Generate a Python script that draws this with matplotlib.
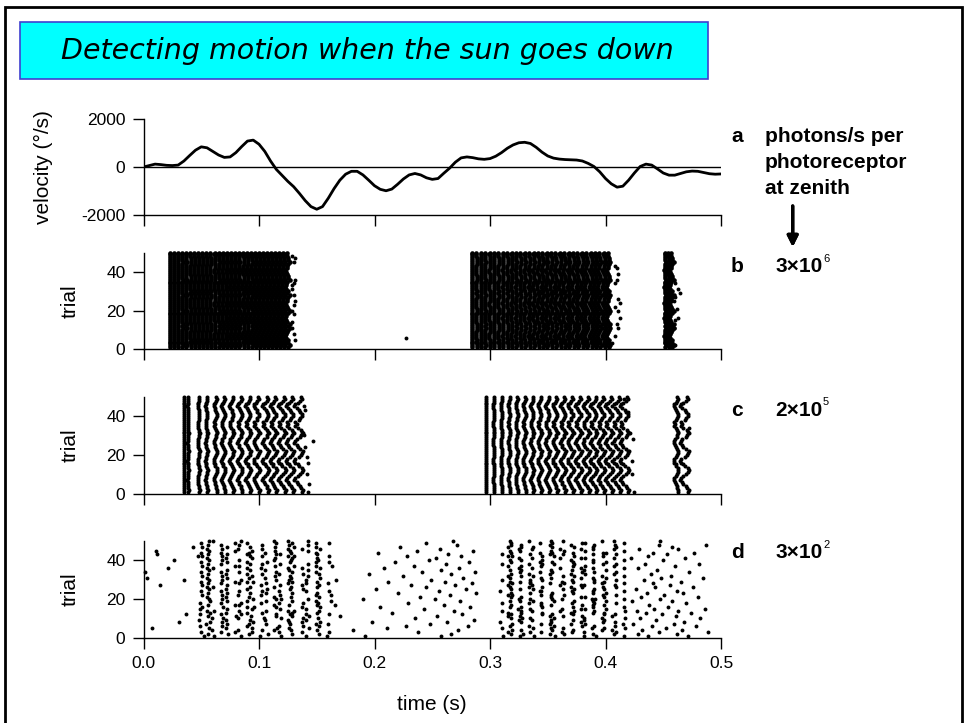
import matplotlib
matplotlib.use('Agg')
import matplotlib.pyplot as plt
import numpy as np
from matplotlib.patches import Rectangle

plt.rcParams['font.family'] = ['Liberation Sans', 'DejaVu Sans']
plt.rcParams['axes.unicode_minus'] = False
plt.rcParams['axes.linewidth'] = 1.0
plt.rcParams['xtick.labelsize'] = 12.5
plt.rcParams['ytick.labelsize'] = 12.5
plt.rcParams['axes.labelsize'] = 15

# ---- panel a: angular velocity of the stimulus ----
vel_ms = [0, 5, 10, 15, 20, 25, 30, 35, 40, 45, 50, 55, 60, 65, 70, 75, 80, 85, 90, 95,
          100, 105, 110, 115, 120, 125, 130, 135, 140, 145, 150, 155, 160, 165, 170, 175,
          180, 185, 190, 195, 200, 205, 210, 215, 220, 225, 230, 235, 240, 245, 250, 255,
          260, 265, 270, 275, 280, 285, 290, 295, 300, 305, 310, 315, 320, 325, 330, 335,
          340, 345, 350, 355, 360, 365, 370, 375, 380, 385, 390, 395, 400, 405, 410, 415,
          420, 425, 430, 435, 440, 445, 450, 455, 460, 465, 470, 475, 480, 485, 490, 495, 500]
velocity = [0, 60, 120, 100, 70, 60, 80, 250, 480, 700, 840, 800, 650, 500, 400, 420, 600,
            850, 1080, 1120, 950, 650, 250, -100, -350, -600, -820, -1100, -1400, -1650,
            -1760, -1650, -1300, -900, -550, -300, -180, -180, -330, -550, -780, -930, -990,
            -920, -720, -500, -330, -270, -330, -450, -515, -480, -260, -50, 200, 380, 420,
            390, 340, 320, 350, 450, 600, 780, 920, 1010, 1030, 980, 820, 620, 460, 370, 330,
            310, 300, 290, 250, 150, 20, -200, -480, -700, -840, -800, -550, -250, 20, 120,
            80, -80, -250, -340, -340, -270, -200, -170, -180, -230, -280, -300, -290]

# ---- panel b: 3x10^6 photons/s, stripe times (s) of each burst ----
b_stripes = [
    [0.0230, 0.0265, 0.0300, 0.0335, 0.0370, 0.0405, 0.0440, 0.0475, 0.0510, 0.0545,
     0.0580, 0.0615, 0.0650, 0.0685, 0.0720, 0.0755, 0.0790, 0.0825, 0.0860, 0.0895,
     0.0930, 0.0965, 0.1000, 0.1035, 0.1070, 0.1105, 0.1140, 0.1175, 0.1210, 0.1245],
    [0.2845, 0.2883, 0.2921, 0.2959, 0.2997, 0.3035, 0.3073, 0.3111, 0.3149, 0.3187,
     0.3225, 0.3263, 0.3301, 0.3339, 0.3377, 0.3415, 0.3453, 0.3491, 0.3529, 0.3567,
     0.3605, 0.3643, 0.3681, 0.3719, 0.3757, 0.3795, 0.3833, 0.3871, 0.3909, 0.3947,
     0.3985, 0.4020],
    [0.4515, 0.4545, 0.4570],
]
# per-trial lag (ms) of the last stripe of a burst, trials 1..50
b_shift = [1, 2, 1, 0, 1, -1, -2, -1, 0, 1, 2, 1, 2, 0, -1, -2, -1, -1, 1, 2, 1, 0, -1,
           -2, 0, 0, 1, 2, 0, 1, -1, -2, -1, -1, 0, 2, 1, 1, 0, -1, -2, 0, 0, 1, 2, 1, 1,
           0, -1, 0]
b_extra_t = [0.2276, 0.1284, 0.1313, 0.1299, 0.1313, 0.1284, 0.1299, 0.1284, 0.1299, 0.1313,
             0.1299, 0.1284, 0.1305, 0.1290, 0.1284, 0.1299, 0.1313,
             0.4080, 0.4096, 0.4110, 0.4096, 0.4080, 0.4104, 0.4125, 0.4080, 0.4110, 0.4125,
             0.4096, 0.4110, 0.4080, 0.4055,
             0.4603, 0.4632, 0.4646, 0.4603, 0.4597, 0.4617, 0.4632, 0.4603, 0.4597, 0.4603]
b_extra_trial = [6, 48, 47, 45, 36, 33, 34, 31, 28, 25, 23, 20, 18, 14, 11, 8, 5,
                 43, 42, 39, 36, 34, 26, 24, 22, 20, 16, 13, 11, 7, 3,
                 34, 31, 29, 27, 25, 21, 16, 15, 11, 2]

# ---- panel c: 2x10^5 photons/s ----
c_stripes = [
    [0.0350, 0.0385, 0.0478, 0.0545, 0.0623, 0.0690, 0.0762, 0.0835, 0.0907, 0.0980,
     0.1058, 0.1125, 0.1197, 0.1270, 0.1345],
    [0.2965, 0.3032, 0.3098, 0.3165, 0.3232, 0.3298, 0.3365, 0.3432, 0.3498, 0.3565,
     0.3632, 0.3698, 0.3765, 0.3832, 0.3898, 0.3965, 0.4032, 0.4098, 0.4165],
    [0.4612, 0.4685],
]
c_shift = [3, 4, 2, 1, -1, -2, -4, -3, -1, 1, 3, 4, 3, 0, -1, -3, -4, -3, 0, 2, 3, 4, 1, -1,
           -2, -4, -3, -2, 1, 2, 4, 3, 2, -1, -3, -2, -3, 0, 1, 3, 3, 1, 0, -2, -4, -3, -1,
           1, 3, 2]
c_extra_t = [0.1464, 0.1388, 0.1402, 0.1417, 0.1426, 0.1417, 0.1432, 0.1426, 0.1391, 0.1400,
             0.4197, 0.4212, 0.4241, 0.4197, 0.4226, 0.4232, 0.4250, 0.4162, 0.4719]
c_extra_trial = [27, 30, 24, 19, 16, 10, 5, 1, 45, 43,
                 42, 31, 28, 22, 17, 10, 1, 49, 34]

# ---- panel d: 3x10^2 photons/s, spike times (ms) per trial 1..50 ----
d_spikes = [
    [52, 61, 84, 101, 119, 141, 159, 192, 258, 311, 326, 338, 356, 381, 392, 416, 437, 471],
    [56, 73, 91, 108, 129, 152, 266, 318, 329, 352, 364, 389, 407, 428, 462],
    [50, 67, 79, 94, 117, 137, 161, 238, 316, 335, 344, 362, 371, 381, 409, 446, 489],
    [59, 82, 103, 113, 128, 150, 181, 272, 319, 327, 354, 372, 397, 406, 432, 466],
    [7, 57, 71, 94, 116, 126, 143, 211, 310, 337, 353, 363, 388, 399, 417, 452],
    [49, 68, 90, 117, 138, 152, 227, 281, 317, 334, 355, 380, 390, 408, 440, 478],
    [54, 72, 91, 106, 127, 149, 160, 248, 319, 344, 352, 370, 382, 415, 424, 459],
    [31, 58, 68, 95, 126, 137, 153, 198, 263, 309, 327, 353, 379, 398, 408, 468],
    [48, 71, 92, 105, 125, 141, 286, 325, 336, 353, 372, 381, 399, 444],
    [59, 69, 82, 104, 119, 138, 151, 235, 318, 328, 335, 355, 381, 397, 417, 430, 482],
    [56, 80, 93, 115, 129, 143, 170, 254, 316, 326, 352, 363, 380, 406, 461],
    [37, 49, 67, 84, 115, 127, 141, 161, 276, 318, 345, 354, 372, 399, 408, 449],
    [58, 71, 90, 103, 129, 150, 215, 316, 327, 345, 370, 389, 399, 435, 474],
    [55, 61, 83, 106, 125, 130, 152, 269, 310, 327, 336, 361, 373, 390, 417, 427, 463],
    [49, 72, 94, 118, 141, 243, 324, 335, 362, 379, 382, 400, 442, 486],
    [51, 69, 90, 96, 115, 137, 153, 205, 283, 317, 327, 345, 372, 389, 416, 454],
    [56, 79, 83, 113, 126, 150, 166, 260, 318, 344, 353, 380, 389, 399, 438],
    [49, 67, 84, 102, 117, 138, 151, 229, 310, 334, 344, 371, 390, 409, 470],
    [58, 72, 90, 106, 129, 149, 162, 274, 317, 326, 337, 355, 373, 389, 400, 423, 458],
    [57, 68, 95, 115, 119, 142, 190, 252, 325, 335, 354, 362, 388, 391, 416, 447],
    [55, 71, 91, 113, 128, 152, 239, 318, 327, 353, 379, 382, 399, 431, 480],
    [51, 68, 82, 102, 118, 149, 162, 265, 316, 319, 344, 353, 364, 398, 409, 451],
    [56, 72, 92, 106, 129, 150, 220, 288, 318, 335, 354, 372, 389, 400, 436, 467],
    [50, 67, 83, 103, 117, 141, 161, 256, 309, 343, 344, 371, 389, 416, 462],
    [57, 71, 90, 107, 127, 138, 201, 279, 318, 326, 337, 363, 373, 390, 399, 426],
    [55, 60, 92, 113, 128, 150, 245, 317, 334, 345, 370, 380, 398, 409, 443, 476],
    [14, 51, 72, 102, 118, 137, 152, 232, 270, 316, 336, 361, 379, 381, 408, 456],
    [56, 67, 83, 106, 125, 141, 160, 284, 319, 335, 352, 364, 397, 416, 441],
    [50, 79, 90, 95, 129, 150, 212, 261, 317, 326, 335, 362, 372, 390, 399, 465],
    [35, 57, 68, 84, 115, 126, 141, 167, 249, 310, 335, 345, 371, 390, 409, 433],
    [3, 55, 72, 91, 105, 128, 153, 277, 317, 344, 353, 379, 389, 400, 448, 484],
    [51, 68, 94, 114, 127, 142, 225, 316, 327, 337, 363, 373, 397, 416, 457],
    [56, 71, 90, 103, 117, 138, 152, 195, 266, 318, 334, 352, 370, 382, 407, 439],
    [1, 50, 67, 83, 115, 129, 149, 241, 287, 326, 343, 354, 380, 390, 409, 472],
    [57, 72, 92, 105, 126, 142, 258, 317, 327, 353, 371, 381, 400, 445],
    [21, 55, 60, 90, 102, 125, 137, 153, 208, 273, 325, 336, 361, 379, 389, 416, 428],
    [51, 79, 83, 114, 130, 149, 163, 234, 316, 327, 344, 372, 382, 407, 460],
    [56, 67, 92, 103, 118, 142, 262, 310, 334, 345, 355, 373, 398, 409, 434, 481],
    [50, 72, 90, 107, 127, 149, 161, 218, 282, 318, 343, 354, 372, 389, 400],
    [26, 57, 68, 83, 113, 128, 151, 247, 317, 327, 345, 370, 389, 416, 450],
    [55, 71, 94, 114, 129, 150, 253, 325, 336, 361, 379, 382, 407, 422, 469],
    [47, 51, 68, 92, 103, 125, 130, 161, 228, 275, 316, 319, 345, 355, 373, 398, 437],
    [12, 56, 72, 90, 115, 118, 150, 264, 310, 335, 352, 363, 389, 409, 453],
    [50, 67, 91, 105, 128, 149, 203, 318, 343, 354, 372, 398, 400, 441, 477],
    [11, 57, 79, 94, 114, 127, 142, 237, 285, 317, 326, 353, 364, 382, 416],
    [55, 68, 82, 103, 125, 137, 153, 257, 325, 336, 361, 379, 389, 407, 429, 463],
    [43, 51, 72, 92, 114, 130, 149, 222, 316, 327, 337, 354, 373, 389, 409, 458],
    [56, 67, 83, 103, 126, 142, 271, 318, 327, 352, 370, 390, 408, 446, 487],
    [50, 79, 90, 115, 129, 149, 161, 245, 318, 343, 354, 380, 382, 416],
    [57, 60, 84, 113, 125, 142, 268, 317, 334, 353, 363, 397, 407, 447],
]

W, H = 964, 723
fig = plt.figure(figsize=(W / 100, H / 100), dpi=100)


def fx(x):
    return x / W


def fy(y):
    return 1 - y / H


def stripe_raster(stripes, shift_ms):
    # every trial fires once per stripe; the lag grows through the burst
    ts, ys = [], []
    shift = np.array(shift_ms) / 1000.0
    trials = np.arange(1, len(shift_ms) + 1)
    for burst in stripes:
        n = len(burst)
        for k, t0 in enumerate(burst):
            ts.extend(t0 + shift * (k + 1) / n)
            ys.extend(trials)
    return ts, ys


left = fx(143.5)
width = (721 - 143.5) / W
ax_a = fig.add_axes([left, fy(215), width, 96 / H])
ax_b = fig.add_axes([left, fy(349.3), width, 96.8 / H])
ax_c = fig.add_axes([left, fy(493.5), width, 96.8 / H])
ax_d = fig.add_axes([left, fy(637.7), width, 96.8 / H])

for ax in (ax_a, ax_b, ax_c, ax_d):
    ax.spines['top'].set_visible(False)
    ax.spines['right'].set_visible(False)
    ax.set_xlim(0, 0.5)
    ax.set_xticks([0, 0.1, 0.2, 0.3, 0.4, 0.5])
    ax.tick_params(direction='out', length=8, width=1, pad=5)
    ax.patch.set_alpha(0)

# panel a
ax_a.plot(np.array(vel_ms) / 1000.0, velocity, color='k', lw=2.0, solid_capstyle='round')
ax_a.axhline(0, color='k', lw=1)
ax_a.set_ylim(-2000, 2000)
ax_a.set_yticks([-2000, 0, 2000])
ax_a.tick_params(labelbottom=False)
ax_a.set_ylabel('velocity (°/s)')
ax_a.yaxis.set_label_coords(-0.157, 0.5)

# panels b, c, d
tb, yb = stripe_raster(b_stripes, b_shift)
ax_b.plot(tb, yb, 'o', color='k', ms=3.3, mew=0, clip_on=False)
ax_b.plot(b_extra_t, b_extra_trial, 'o', color='k', ms=2.8, mew=0, clip_on=False)

tc, yc = stripe_raster(c_stripes, c_shift)
ax_c.plot(tc, yc, 'o', color='k', ms=2.9, mew=0, clip_on=False)
ax_c.plot(c_extra_t, c_extra_trial, 'o', color='k', ms=2.8, mew=0, clip_on=False)

td, yd = [], []
for i, row in enumerate(d_spikes):
    td.extend(np.array(row) / 1000.0)
    yd.extend([i + 1] * len(row))
ax_d.plot(td, yd, 'o', color='k', ms=2.8, mew=0, clip_on=False)

for ax in (ax_b, ax_c, ax_d):
    ax.set_ylim(0, 50)
    ax.set_yticks([0, 20, 40])
    ax.set_ylabel('trial')
    ax.yaxis.set_label_coords(-0.111, 0.5)
ax_b.tick_params(labelbottom=False)
ax_c.tick_params(labelbottom=False)
ax_d.set_xticklabels(['0.0', '0.1', '0.2', '0.3', '0.4', '0.5'])
ax_d.set_xlabel('time (s)')
ax_d.xaxis.set_label_coords(0.5, -0.59)

# slide frame and title box
fig.add_artist(Rectangle((fx(5), -0.05), (962 - 5) / W, fy(7) + 0.05,
                         transform=fig.transFigure, fill=False, ec='k', lw=2))
fig.add_artist(Rectangle((fx(20), fy(79)), 688 / W, 57 / H, transform=fig.transFigure,
                         fc='#00ffff', ec='#4040d0', lw=1.2))
fig.text(fx(367), fy(51), 'Detecting motion when the sun goes down', ha='center',
         va='center', fontsize=20.5, style='italic', family=['DejaVu Sans'])

# light-level annotations on the right
bold = dict(fontsize=15, fontweight='bold', va='center')
fig.text(fx(731), fy(137), 'a', **bold)
fig.text(fx(765), fy(137), 'photons/s per', **bold)
fig.text(fx(765), fy(162), 'photoreceptor', **bold)
fig.text(fx(765), fy(188), 'at zenith', **bold)
fig.add_artist(plt.annotate('', xy=(fx(792.7), fy(247)), xytext=(fx(792.7), fy(206)),
                            xycoords='figure fraction',
                            arrowprops=dict(arrowstyle='-|>', lw=2.4, color='k',
                                            mutation_scale=16, shrinkA=0, shrinkB=0)))
for lab, val, sup, yy in (('b', '3×10', '6', 267), ('c', '2×10', '5', 410),
                          ('d', '3×10', '2', 553)):
    fig.text(fx(731), fy(yy), lab, **bold)
    fig.text(fx(775), fy(yy), val, **bold)
    fig.text(fx(823), fy(yy - 8), sup, fontsize=8, va='center')

fig.savefig('out.png', dpi=100)
